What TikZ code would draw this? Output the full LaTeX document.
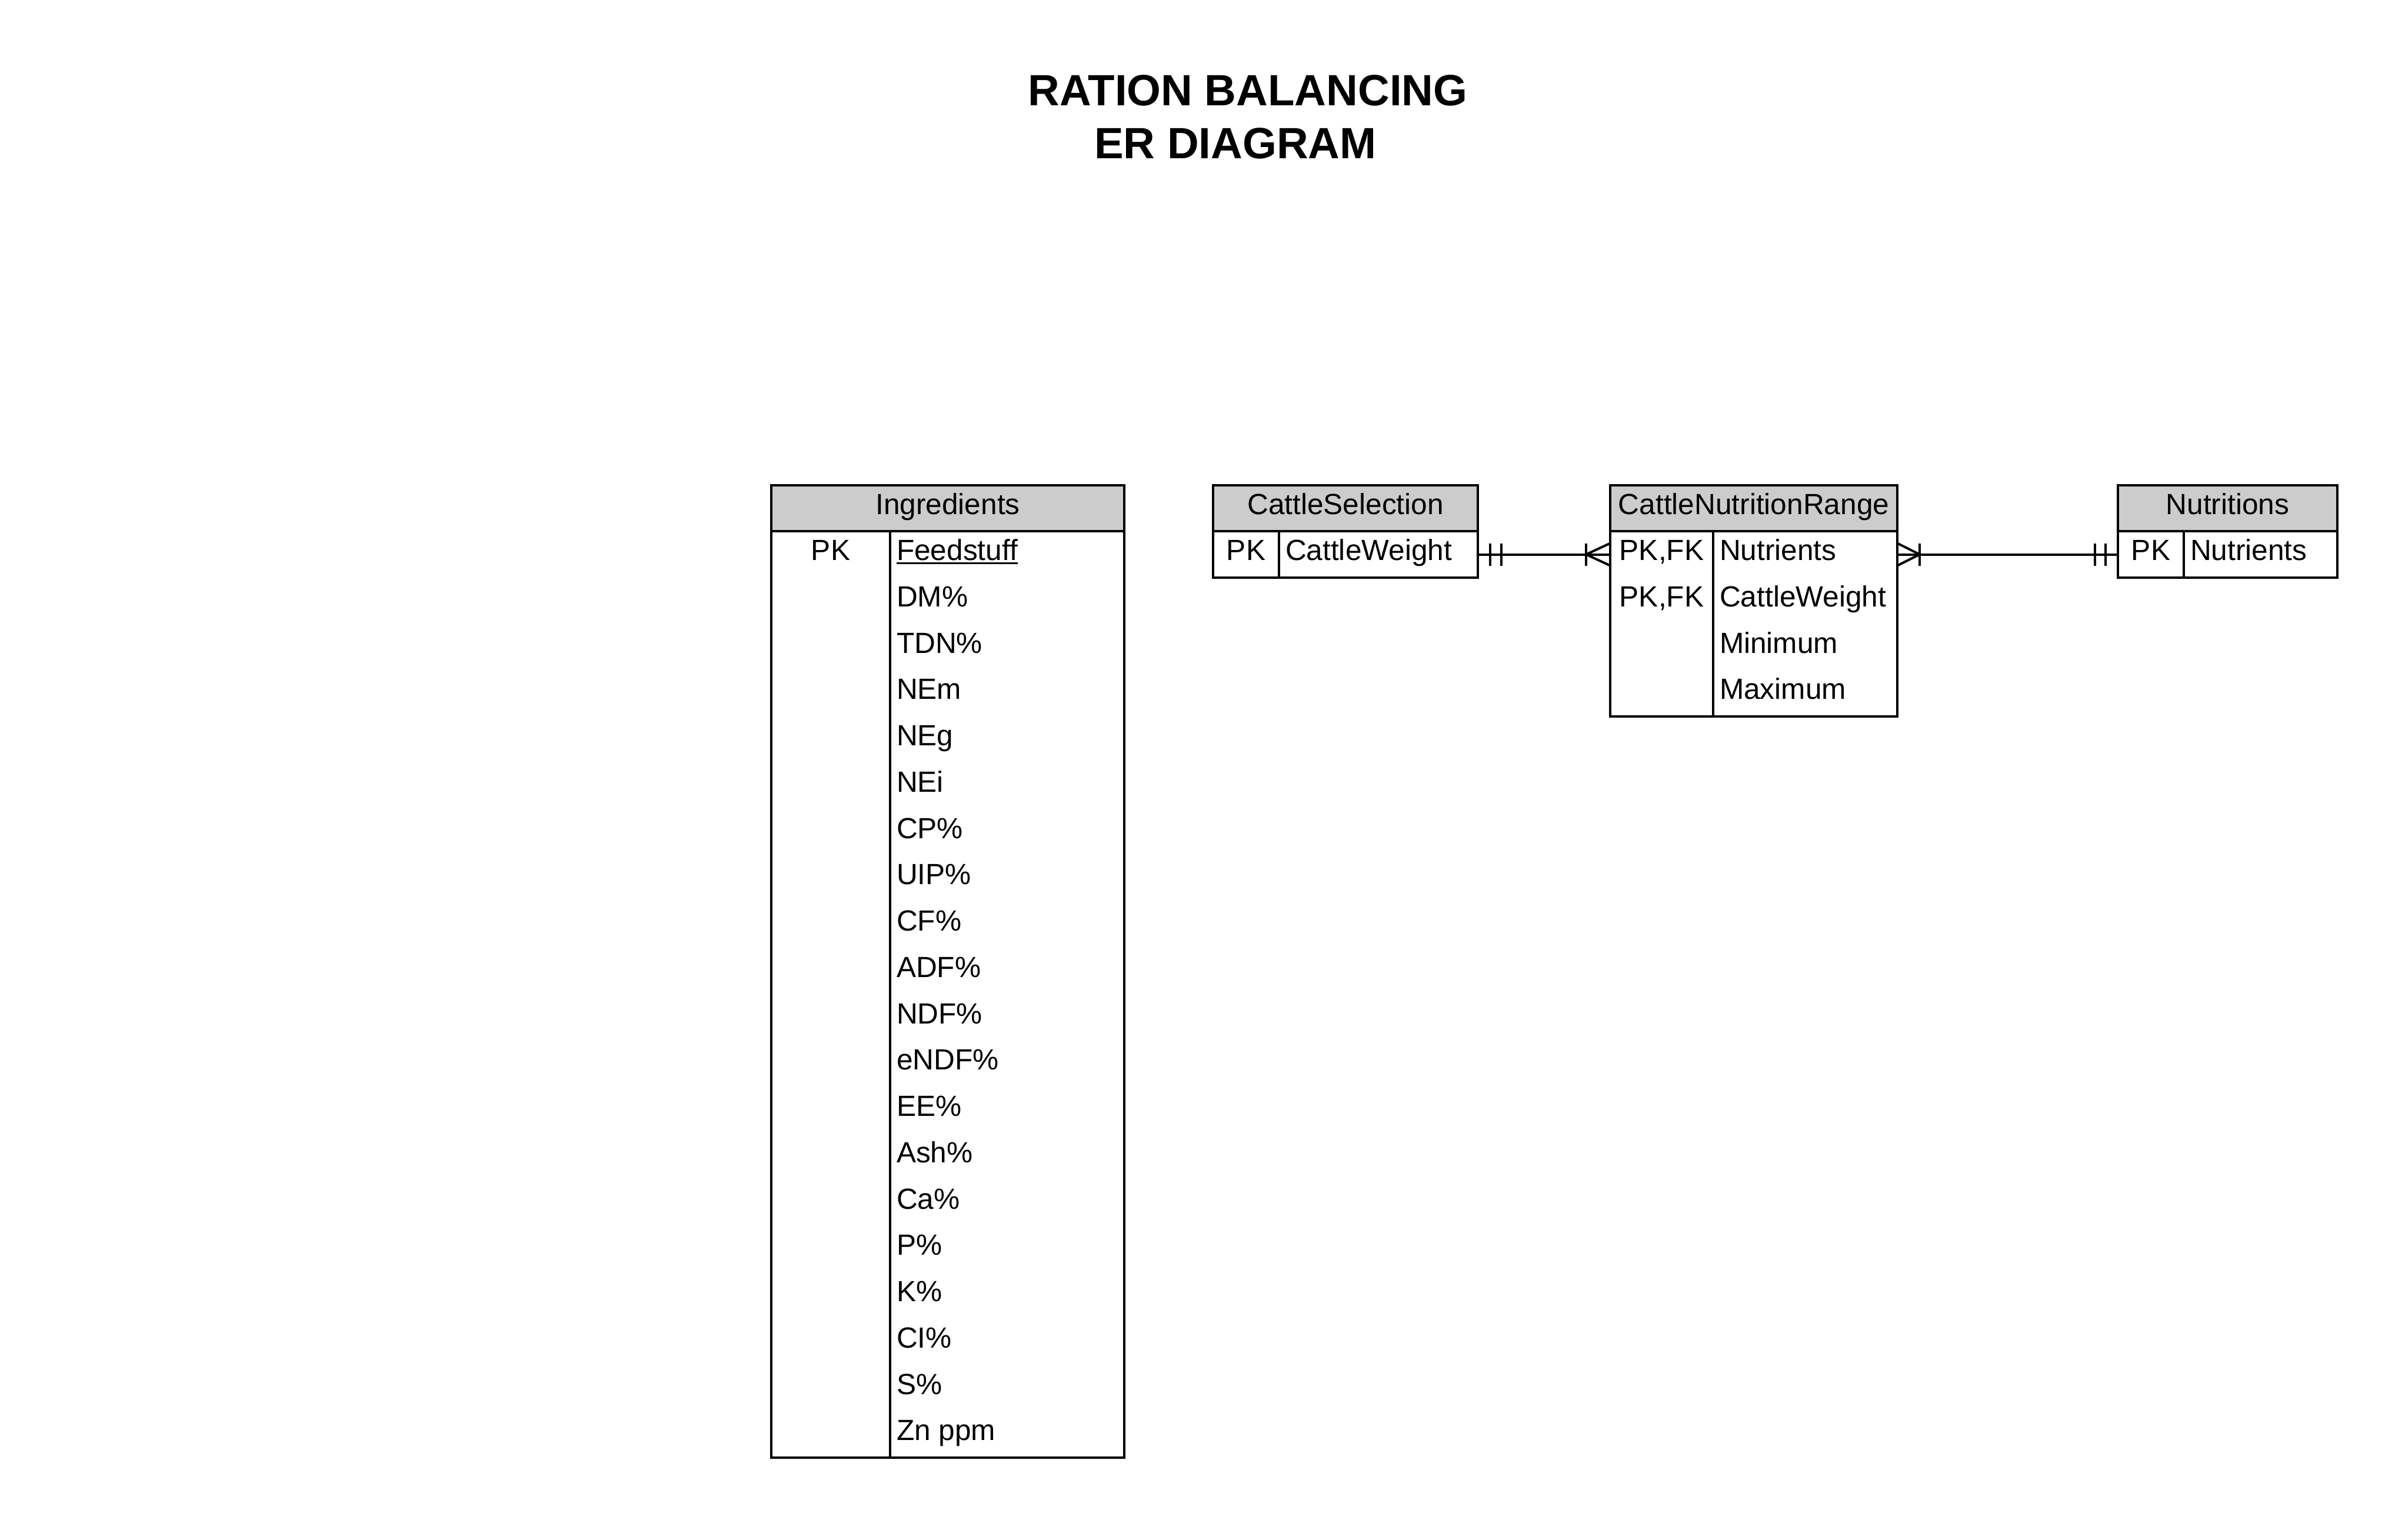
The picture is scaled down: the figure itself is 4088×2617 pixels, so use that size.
\documentclass[tikz,border=0pt]{standalone}
\usepackage{fontspec}
\setmainfont{Liberation Sans}
\usetikzlibrary{calc}
\definecolor{hdrgray}{HTML}{CCCCCC}
\begin{document}
\begin{tikzpicture}[x=0.25pt,y=-0.25pt,
  boxline/.style={draw=black,line width=1pt,inner sep=0pt,outer sep=0pt},
  hdrbox/.style={boxline,fill=hdrgray,minimum height=19.5pt},
  bodybox/.style={boxline,fill=white},
  lbl/.style={inner sep=0pt,outer sep=0pt,font=\fontsize{12.4}{14}\selectfont},
  hdrtxt/.style={lbl,anchor=base},
  keytxt/.style={lbl,anchor=base},
  attrtxt/.style={lbl,anchor=base west},
  titletxt/.style={inner sep=0pt,anchor=base,font=\fontsize{18.6}{22}\selectfont\bfseries},
  divline/.style={line width=1pt},
  uline/.style={line width=0.75pt},
  conn/.style={line width=1pt}]
\fill[white] (0,0) rectangle (4088,2617);
\useasboundingbox (0,0) rectangle (4088,2617);

% Title
\node[titletxt] (title1) at (2121,179) {RATION BALANCING};
\node[titletxt] (title2) at (2100,269) {ER DIAGRAM};

% Ingredients
\node[hdrbox,minimum width=150pt] (ingH) at (1611,864) {};
\node[hdrtxt] (ingT) at (1611,874.5) {Ingredients};
\node[bodybox,minimum width=150pt,minimum height=393.75pt] (ingB) at (1611,1690.5) {};
\draw[divline] (1513,903) -- (1513,2478);
\node[keytxt] (ingK) at (1412,952.5) {PK};
\foreach \t [count=\i from 0] in {Feedstuff,DM\%,TDN\%,NEm,NEg,NEi,CP\%,UIP\%,CF\%,ADF\%,NDF\%,eNDF\%,EE\%,Ash\%,Ca\%,P\%,K\%,CI\%,S\%,Zn ppm}
  \node[attrtxt] (ingA\i) at (1524,{952.5+78.75*\i}) {\t};
\draw[uline] ($(ingA0.base west)+(0,5)$) -- ($(ingA0.base east)+(0,5)$);

% CattleSelection
\node[hdrbox,minimum width=112.5pt] (csH) at (2287,864) {};
\node[hdrtxt] (csT) at (2287,874.5) {CattleSelection};
\node[bodybox,minimum width=112.5pt,minimum height=19.75pt] (csB) at (2287,942.5) {};
\draw[divline] (2174,903) -- (2174,982);
\node[keytxt] (csK) at (2118,952.5) {PK};
\node[attrtxt] (csA0) at (2185,952.5) {CattleWeight};

% CattleNutritionRange
\node[hdrbox,minimum width=122pt] (cnrH) at (2981,864) {};
\node[hdrtxt] (cnrT) at (2981,874.5) {CattleNutritionRange};
\node[bodybox,minimum width=122pt,minimum height=78.75pt] (cnrB) at (2981,1060.5) {};
\draw[divline] (2912,903) -- (2912,1218);
\node[keytxt] (cnrK0) at (2824.5,952.5) {PK,FK};
\node[keytxt] (cnrK1) at (2824.5,1031.25) {PK,FK};
\foreach \t [count=\i from 0] in {Nutrients,CattleWeight,Minimum,Maximum}
  \node[attrtxt] (cnrA\i) at (2923,{952.5+78.75*\i}) {\t};

% Nutritions
\node[hdrbox,minimum width=93.25pt] (nutH) at (3786.5,864) {};
\node[hdrtxt] (nutT) at (3786.5,874.5) {Nutritions};
\node[bodybox,minimum width=93.25pt,minimum height=19.75pt] (nutB) at (3786.5,942.5) {};
\draw[divline] (3712,903) -- (3712,982);
\node[keytxt] (nutK) at (3656,952.5) {PK};
\node[attrtxt] (nutA0) at (3723,952.5) {Nutrients};

% Connector CattleSelection -> CattleNutritionRange
\coordinate (cnrIn) at (cnrB.west |- csB.east);
\draw[conn] (csB.east) -- (cnrIn);
\draw[conn] ($(csB.east)+(21,-19)$) -- ++(0,38);
\draw[conn] ($(csB.east)+(40,-19)$) -- ++(0,38);
\draw[conn] ($(cnrIn)+(0,-19)$) -- ($(cnrIn)+(-41,0)$) -- ($(cnrIn)+(0,19)$);
\draw[conn] ($(cnrIn)+(-41,-19)$) -- ++(0,38);

% Connector CattleNutritionRange -> Nutritions
\coordinate (cnrOut) at (cnrB.east |- nutB.west);
\draw[conn] (cnrOut) -- (nutB.west);
\draw[conn] ($(cnrOut)+(0,-19)$) -- ($(cnrOut)+(38,0)$) -- ($(cnrOut)+(0,19)$);
\draw[conn] ($(cnrOut)+(38,-19)$) -- ++(0,38);
\draw[conn] ($(nutB.west)+(-21,-19)$) -- ++(0,38);
\draw[conn] ($(nutB.west)+(-39,-19)$) -- ++(0,38);
\end{tikzpicture}
\end{document}
